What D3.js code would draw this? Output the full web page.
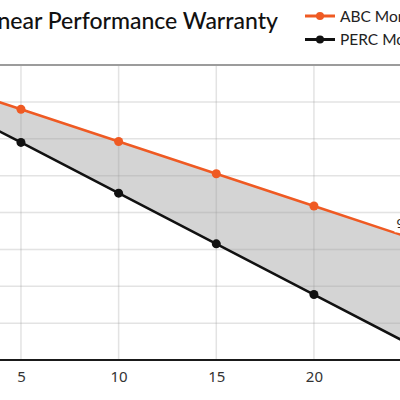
<!DOCTYPE html>
<html><head><meta charset="utf-8">
<script src="https://cdn.jsdelivr.net/npm/d3@7"></script>
<style>html,body{margin:0;padding:0;background:#fff;overflow:hidden}svg{display:block}</style>
</head><body>
<script>
// ---- data ----
const years = [1, 5, 10, 15, 20, 25];
const abcValues = [99, 97.6, 95.85, 94.1, 92.35, 90.6];
const percValues = [98, 95.8, 93.05, 90.3, 87.55, 84.8];
const seriesNames = ["ABC Mono Module", "PERC Mono Module"];
const xTicks = [0, 5, 10, 15, 20, 25];
const yTicks = [84, 86, 88, 90, 92, 94, 96, 98, 100];
const titleText = "Linear Performance Warranty";
const endLabels = ["90.6%", "84.8%"];

// ---- layout ----
const W = 400, H = 400;
const plotLeft = -76.7;
const plotTop = 65, plotBottom = 360;
const orange = "#ef5a23", black = "#111";

const svg = d3.select("body").append("svg").attr("width", W).attr("height", H);

const x = d3.scaleLinear().domain([0, 25]).range([plotLeft, 411.6]);
const y = d3.scaleLinear().domain([84, 100]).range([plotBottom, plotTop]);

const abc = years.map((yr, i) => ({yr, v: abcValues[i]}));
const perc = years.map((yr, i) => ({yr, v: percValues[i]}));

// band between series
svg.append("path")
  .datum(years.map((yr, i) => ({yr, a: abcValues[i], p: percValues[i]})))
  .attr("fill", "#d4d4d4")
  .attr("d", d3.area().x(d => x(d.yr)).y0(d => y(d.p)).y1(d => y(d.a)));

// grid
const grid = svg.append("g");
grid.selectAll("line.h").data(yTicks.filter(t => t > 84 && t < 100)).join("line")
  .attr("x1", plotLeft).attr("x2", W + 20)
  .attr("y1", d => y(d)).attr("y2", d => y(d))
  .attr("stroke", "#9a9a9a").attr("stroke-opacity", 0.28).attr("stroke-width", 1.5);
grid.selectAll("line.v").data(xTicks.filter(t => t > 0)).join("line")
  .attr("x1", d => x(d)).attr("x2", d => x(d))
  .attr("y1", plotTop).attr("y2", plotBottom)
  .attr("stroke", "#9a9a9a").attr("stroke-opacity", 0.28).attr("stroke-width", 1.5);

// top border
svg.append("line").attr("x1", plotLeft).attr("x2", W + 20)
  .attr("y1", y(100)).attr("y2", y(100))
  .attr("stroke", "#9c9c9c").attr("stroke-width", 2);

// x axis
const xAxis = svg.append("g").attr("transform", `translate(0,${plotBottom})`)
  .call(d3.axisBottom(x).tickValues(xTicks.filter(t => t > 0 && t < 25)).tickSize(0).tickPadding(11));
xAxis.select(".domain").remove();
xAxis.selectAll("text").attr("font-family", "'Noto Sans', sans-serif").attr("font-size", 15).attr("fill", "#333");
svg.append("line").attr("x1", plotLeft).attr("x2", W + 20)
  .attr("y1", plotBottom).attr("y2", plotBottom)
  .attr("stroke", "#1a1a1a").attr("stroke-width", 2);

// lines + markers
const line = d3.line().x(d => x(d.yr)).y(d => y(d.v));
[[abc, orange], [perc, black]].forEach(([data, col]) => {
  svg.append("path").datum(data).attr("fill", "none").attr("stroke", col)
    .attr("stroke-width", 2.5).attr("d", line);
  svg.selectAll(null).data(data.filter(d => d.yr % 5 === 0)).join("circle")
    .attr("cx", d => x(d.yr)).attr("cy", d => y(d.v)).attr("r", 4.5).attr("fill", col);
});

// end label (ABC), partially visible at right edge
const lblG = svg.append("g").attr("transform", `translate(${x(25) - 15},${y(abcValues[5]) - 10})`);
lblG.append("rect").attr("x", -2).attr("y", -12).attr("width", 44).attr("height", 16).attr("fill", "#fff");
lblG.append("text").text(endLabels[0]).attr("font-family", "'Noto Sans', sans-serif")
  .attr("font-size", 13).attr("fill", "#222");

// title
svg.append("text").text(titleText).attr("x", 278).attr("y", 29).attr("text-anchor", "end")
  .attr("font-family", "Lato, sans-serif").attr("font-weight", 500)
  .attr("font-size", 23).attr("fill", "#111");

// legend
const leg = svg.append("g");
seriesNames.forEach((name, i) => {
  const col = i === 0 ? orange : black;
  const ly = 16 + i * 23.5;
  leg.append("line").attr("x1", 305).attr("x2", 335).attr("y1", ly).attr("y2", ly)
    .attr("stroke", col).attr("stroke-width", 3);
  leg.append("circle").attr("cx", 320).attr("cy", ly).attr("r", 4).attr("fill", col);
  leg.append("text").text(name).attr("x", 340).attr("y", ly + 5.5)
    .attr("font-family", "Lato, sans-serif").attr("font-size", 15.5).attr("fill", "#222");
});
</script>
</body></html>
